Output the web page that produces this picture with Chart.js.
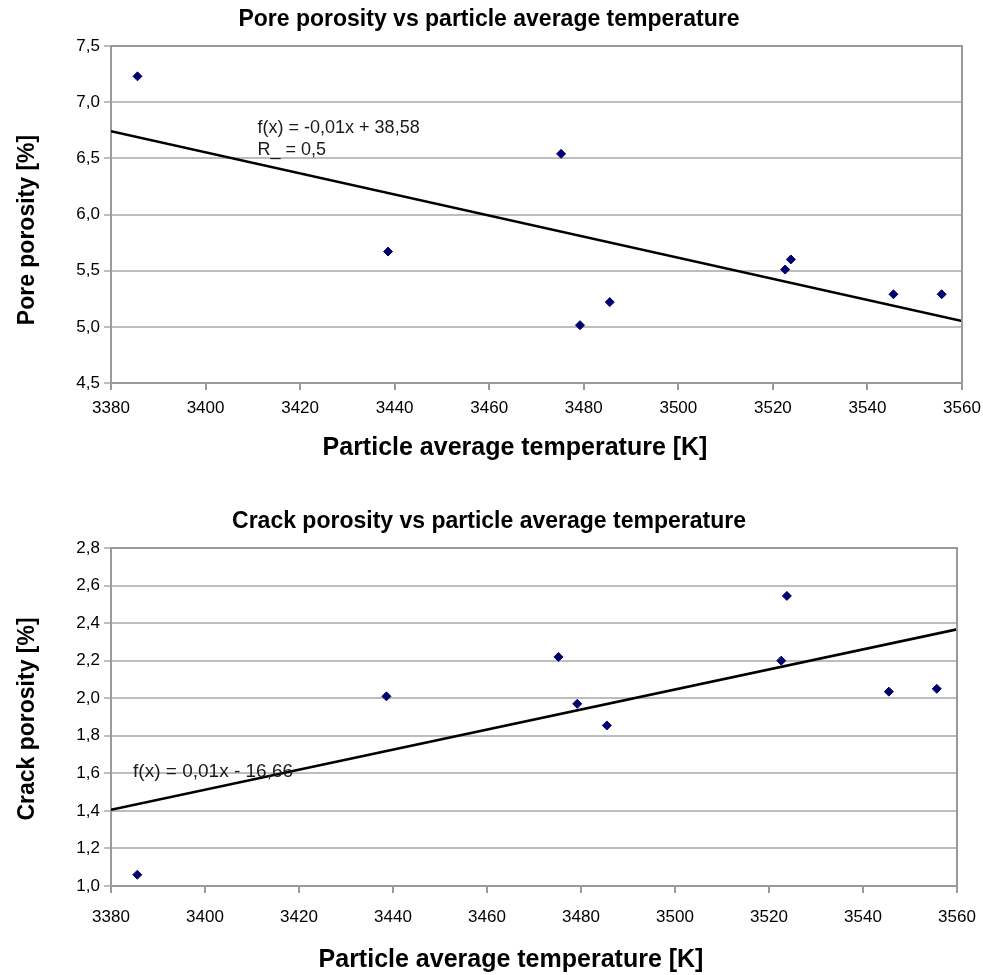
<!DOCTYPE html>
<html>
<head>
<meta charset="utf-8">
<script src="https://cdn.jsdelivr.net/npm/chart.js@4.4.1/dist/chart.umd.min.js"></script>
<style>
  html, body { margin: 0; padding: 0; background: #ffffff; }
  #wrap { position: relative; width: 983px; height: 975px; overflow: hidden; }
  #c1 { position: absolute; left: 0; top: 0; }
  #c2 { position: absolute; left: 0; top: 500px; }
</style>
</head>
<body>
<div id="wrap">
  <canvas id="c1" width="983" height="470"></canvas>
  <canvas id="c2" width="983" height="475"></canvas>
</div>
<script>
// ---- data ----
const temperatureK  = [3385.6, 3438.6, 3475.2, 3479.2, 3485.5, 3522.6, 3523.8, 3545.5, 3555.7];
const porePorosity  = [7.23, 5.67, 6.54, 5.015, 5.22, 5.51, 5.60, 5.29, 5.29];
const crackPorosity = [1.06, 2.01, 2.22, 1.97, 1.855, 2.20, 2.545, 2.035, 2.05];

const xAxisRange     = [3380, 3560];
const xAxisStep      = 20;
const poreAxisRange  = [4.5, 7.5];
const poreAxisStep   = 0.5;
const crackAxisRange = [1.0, 2.8];
const crackAxisStep  = 0.2;

const poreTitle   = 'Pore porosity vs particle average temperature';
const crackTitle  = 'Crack porosity vs particle average temperature';
const xTitle      = 'Particle average temperature [K]';
const poreYTitle  = 'Pore porosity [%]';
const crackYTitle = 'Crack porosity [%]';
const poreFitText  = ['f(x) = -0,01x + 38,58', 'R_ = 0,5'];
const crackFitText = ['f(x) = 0,01x - 16,66'];

// ---- least-squares trend line from the data ----
function linearFit(xs, ys) {
  const n = xs.length;
  const mx = xs.reduce((a, b) => a + b, 0) / n;
  const my = ys.reduce((a, b) => a + b, 0) / n;
  let sxy = 0, sxx = 0;
  for (let i = 0; i < n; i++) { sxy += (xs[i] - mx) * (ys[i] - my); sxx += (xs[i] - mx) ** 2; }
  const slope = sxy / sxx;
  return { slope, intercept: my - slope * mx };
}
function trendPoints(xs, ys) {
  const f = linearFit(xs, ys);
  return xAxisRange.map(x => ({ x, y: f.intercept + f.slope * x }));
}

const FAMILY = '"Liberation Sans", Arial, Helvetica, sans-serif';
Chart.defaults.font.family = FAMILY;
Chart.defaults.color = '#000';

const frameColor = '#9a9a9a';
const gridColor  = '#bdbdbd';
const markColor  = '#00006e';

const framePlugin = {
  id: 'frame',
  afterDatasetsDraw(chart) {
    const { ctx, chartArea: a } = chart;
    ctx.save();
    ctx.strokeStyle = frameColor;
    ctx.lineWidth = 2;
    ctx.beginPath();
    ctx.moveTo(a.left, a.top);
    ctx.lineTo(a.right, a.top);
    ctx.lineTo(a.right, a.bottom);
    ctx.stroke();
    ctx.restore();
  }
};

const notePlugin = {
  id: 'fitNote',
  afterDatasetsDraw(chart, args, opts) {
    const { ctx, scales } = chart;
    ctx.save();
    ctx.font = opts.size + 'px ' + FAMILY;
    ctx.fillStyle = '#1a1a1a';
    ctx.textBaseline = 'middle';
    ctx.textAlign = 'left';
    opts.lines.forEach((t, i) => {
      ctx.fillText(t, scales.x.getPixelForValue(opts.x), scales.y.getPixelForValue(opts.y[i]));
    });
    ctx.restore();
  }
};

// chart title and axis titles, placed like the reference
const titlePlugin = {
  id: 'titles',
  afterDraw(chart, args, opts) {
    const { ctx } = chart;
    opts.items.forEach(it => {
      ctx.save();
      ctx.font = 'bold ' + it.size + 'px ' + FAMILY;
      ctx.fillStyle = '#000';
      ctx.textAlign = 'center';
      ctx.textBaseline = 'middle';
      ctx.translate(it.x, it.y);
      if (it.rotate) ctx.rotate(-Math.PI / 2);
      ctx.fillText(it.text, 0, 0);
      ctx.restore();
    });
  }
};

function makeChart(canvasId, cfg) {
  const pts = temperatureK.map((x, i) => ({ x, y: cfg.values[i] }));
  return new Chart(document.getElementById(canvasId), {
    type: 'scatter',
    data: {
      datasets: [
        {
          type: 'line',
          data: trendPoints(temperatureK, cfg.values),
          borderColor: '#000',
          borderWidth: 2.5,
          pointRadius: 0,
          fill: false,
          order: 2
        },
        {
          data: pts,
          pointStyle: 'rectRot',
          pointRadius: 4.5,
          backgroundColor: markColor,
          borderColor: markColor,
          borderWidth: 1,
          order: 1
        }
      ]
    },
    options: {
      responsive: false,
      animation: false,
      events: [],
      layout: { padding: { left: 0, right: cfg.padRight, top: cfg.padTop, bottom: cfg.padBottom } },
      plugins: {
        legend: { display: false },
        tooltip: { enabled: false },
        title: { display: false },
        fitNote: cfg.note,
        titles: {
          items: [
            { text: cfg.title, x: 489, y: cfg.titleY, size: 23 },
            { text: xTitle, x: cfg.xTitleX, y: cfg.xTitleY, size: 25 },
            { text: cfg.yTitle, x: 28, y: cfg.yTitleY, size: 23, rotate: true }
          ]
        }
      },
      scales: {
        x: {
          type: 'linear',
          min: xAxisRange[0],
          max: xAxisRange[1],
          afterBuildTicks(s) {
            const t = [];
            for (let v = xAxisRange[0]; v <= xAxisRange[1] + 1e-9; v += xAxisStep) t.push({ value: v });
            s.ticks = t;
          },
          ticks: {
            font: { size: 17 },
            color: '#000',
            padding: cfg.xTickPad,
            maxRotation: 0,
            autoSkip: false,
            callback: v => String(Math.round(v))
          },
          grid: { drawOnChartArea: false, drawTicks: true, tickLength: 7, color: frameColor, lineWidth: 2 },
          border: { color: frameColor, width: 2 },
          title: { display: false },
          afterFit(s) { s.height = cfg.xHeight; s.paddingLeft = 0; s.paddingRight = 0; }
        },
        y: {
          type: 'linear',
          min: cfg.yRange[0],
          max: cfg.yRange[1],
          afterBuildTicks(s) {
            const t = [];
            const n = Math.round((cfg.yRange[1] - cfg.yRange[0]) / cfg.yStep);
            for (let i = 0; i <= n; i++) t.push({ value: cfg.yRange[0] + i * cfg.yStep });
            s.ticks = t;
          },
          ticks: {
            font: { size: 17 },
            color: '#000',
            padding: 4,
            callback: v => v.toFixed(1).replace('.', ',')
          },
          grid: {
            drawOnChartArea: true,
            drawTicks: true,
            tickLength: 7,
            color: gridColor,
            lineWidth: 2
          },
          border: { color: frameColor, width: 2 },
          title: { display: false },
          afterFit(s) { s.width = 111; }
        }
      }
    },
    plugins: [framePlugin, notePlugin, titlePlugin]
  });
}

makeChart('c1', {
  values: porePorosity,
  title: poreTitle,
  yTitle: poreYTitle,
  yRange: poreAxisRange,
  yStep: poreAxisStep,
  titleY: 20,
  xTitleX: 515,
  xTitleY: 448,
  yTitleY: 230,
  padTop: 46,
  padRight: 21,
  padBottom: 4,
  xHeight: 83,
  xTickPad: 8,
  note: { lines: poreFitText, x: 3411, y: [6.77, 6.575], size: 18 }
});

makeChart('c2', {
  values: crackPorosity,
  title: crackTitle,
  yTitle: crackYTitle,
  yRange: crackAxisRange,
  yStep: crackAxisStep,
  titleY: 22,
  xTitleX: 511,
  xTitleY: 460,
  yTitleY: 219,
  padTop: 48,
  padRight: 26,
  padBottom: 0,
  xHeight: 89,
  xTickPad: 14,
  note: { lines: crackFitText, x: 3384.7, y: [1.609], size: 19 }
});
</script>
</body>
</html>
